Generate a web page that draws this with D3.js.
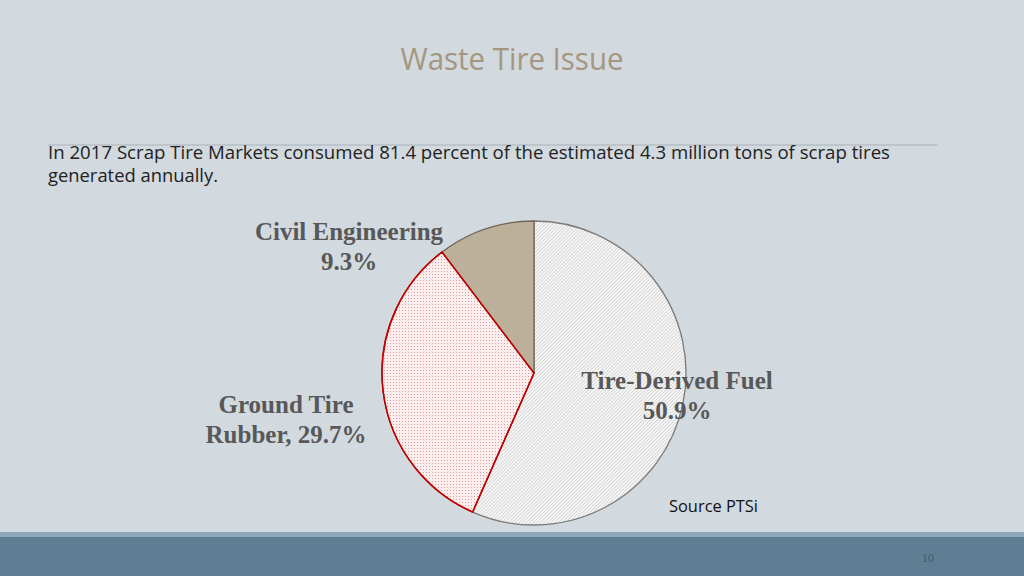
<!DOCTYPE html>
<html>
<head>
<meta charset="utf-8">
<style>
  html, body { margin: 0; padding: 0; background: #d2d9df; }
  svg { display: block; }
</style>
</head>
<body>
<svg width="1024" height="576"></svg>
<script src="https://cdn.jsdelivr.net/npm/d3@7/dist/d3.min.js"></script>
<script>

// data
var categories = ["Tire-Derived Fuel", "Ground Tire Rubber", "Civil Engineering"];
var shares = [50.9, 29.7, 9.3];
var labelLines = [
  ["Tire-Derived Fuel", "50.9%"],
  ["Ground Tire", "Rubber, 29.7%"],
  ["Civil Engineering", "9.3%"]
];

var svg = d3.select("svg");
var defs = svg.append("defs");

// fine diagonal hatch for the fuel slice
var hatch = defs.append("pattern")
    .attr("id", "hatch")
    .attr("patternUnits", "userSpaceOnUse")
    .attr("width", 2.5).attr("height", 2.5)
    .attr("patternTransform", "rotate(45)");
hatch.append("rect").attr("width", 2.5).attr("height", 2.5).attr("fill", "#f7f7f7");
hatch.append("line").attr("x1", 0).attr("y1", 0).attr("x2", 0).attr("y2", 2.5)
    .attr("stroke", "#b3b3b3").attr("stroke-width", 0.9);

// small red dots for the rubber slice
var dots = defs.append("pattern")
    .attr("id", "dots")
    .attr("patternUnits", "userSpaceOnUse")
    .attr("width", 3).attr("height", 3);
dots.append("rect").attr("width", 3).attr("height", 3).attr("fill", "#fbeeee");
dots.append("rect").attr("width", 1).attr("height", 1).attr("fill", "#e39a9a");

var fills = d3.scaleOrdinal()
    .domain(categories)
    .range(["url(#hatch)", "url(#dots)", "#bcb09a"]);
var strokes = d3.scaleOrdinal()
    .domain(categories)
    .range(["#7b7b7b", "#c00000", "#6f6658"]);

// background bits
svg.append("rect").attr("width", 1024).attr("height", 576).attr("fill", "#d2d9df");
svg.append("rect").attr("y", 532).attr("width", 1024).attr("height", 6).attr("fill", "#8ea8bb");
svg.append("rect").attr("y", 537).attr("width", 1024).attr("height", 39).attr("fill", "#5f7e94");
svg.append("line").attr("x1", 48).attr("x2", 938).attr("y1", 145).attr("y2", 145)
    .attr("stroke", "#aab2b9").attr("stroke-width", 1);

svg.append("text")
    .attr("x", 512).attr("y", 70)
    .attr("text-anchor", "middle")
    .attr("font-family", "Open Sans")
    .attr("font-weight", 400)
    .attr("font-size", 31)
    .attr("textLength", 223).attr("lengthAdjust", "spacingAndGlyphs")
    .attr("fill", "#a5977f")
    .text("Waste Tire Issue");

svg.append("text")
    .attr("x", 48).attr("y", 159)
    .attr("font-family", "Open Sans")
    .attr("font-size", 18)
    .attr("textLength", 842).attr("lengthAdjust", "spacingAndGlyphs")
    .attr("fill", "#222")
    .text("In 2017 Scrap Tire Markets consumed 81.4 percent of the estimated 4.3 million tons of scrap tires");
svg.append("text")
    .attr("x", 48).attr("y", 182)
    .attr("font-family", "Open Sans")
    .attr("font-size", 18)
    .attr("textLength", 170).attr("lengthAdjust", "spacingAndGlyphs")
    .attr("fill", "#222")
    .text("generated annually.");

// pie
var cx = 534, cy = 373, r = 152;
var pie = d3.pie().sort(null).value(function(d, i) { return shares[i]; });
var arc = d3.arc().innerRadius(0).outerRadius(r);
var arcs = pie(categories);

var g = svg.append("g").attr("transform", "translate(" + cx + "," + cy + ")");
g.selectAll("path")
  .data(arcs)
  .enter().append("path")
    .attr("d", arc)
    .attr("fill", function(d) { return fills(d.data); })
    .attr("stroke", function(d) { return strokes(d.data); })
    .attr("stroke-width", 1.3)
    .attr("stroke-linejoin", "round");
// redraw rubber on top so its red edge shows fully
g.append("path")
    .attr("d", arc(arcs[1]))
    .attr("fill", "none")
    .attr("stroke", strokes(categories[1]))
    .attr("stroke-width", 1.5);

// slice labels, placed where the slide has them
var labelPos = [[677, 381], [286, 405], [349, 232]];
labelLines.forEach(function(lines, i) {
  var t = svg.append("text")
      .attr("text-anchor", "middle")
      .attr("font-family", "Liberation Serif")
      .attr("font-weight", "bold")
      .attr("font-size", 25)
      .attr("fill", "#585858");
  lines.forEach(function(line, j) {
    t.append("tspan")
        .attr("x", labelPos[i][0])
        .attr("y", labelPos[i][1] + 8 + j * 30)
        .text(line);
  });
});

svg.append("text")
    .attr("x", 669).attr("y", 512)
    .attr("font-family", "Open Sans")
    .attr("font-size", 16)
    .attr("textLength", 89).attr("lengthAdjust", "spacingAndGlyphs")
    .attr("fill", "#111")
    .text("Source PTSi");

svg.append("text")
    .attr("x", 928).attr("y", 562)
    .attr("text-anchor", "middle")
    .attr("font-family", "Liberation Serif")
    .attr("font-size", 12)
    .attr("fill", "#3c5a70")
    .text("10");

</script>
</body>
</html>
